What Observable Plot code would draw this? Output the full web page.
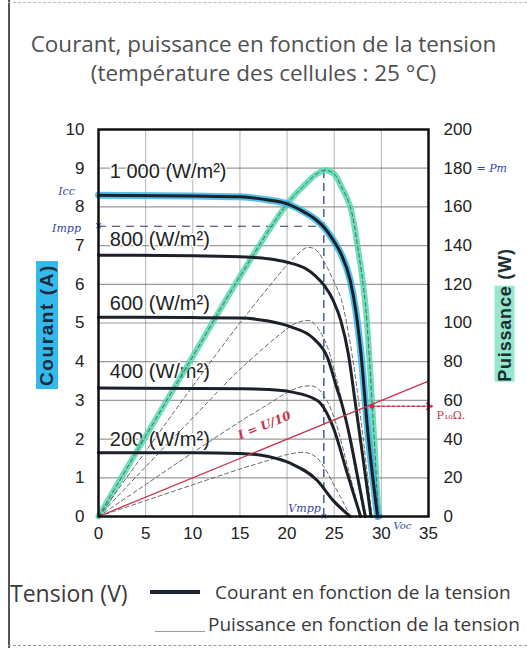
<!DOCTYPE html>
<html>
<head>
<meta charset="utf-8">
<script src="https://cdn.jsdelivr.net/npm/d3@7"></script>
<script src="https://cdn.jsdelivr.net/npm/@observablehq/plot@0.6"></script>
<style>
  html, body { margin: 0; padding: 0; background: #fff; }
  #page { position: relative; width: 527px; height: 648px; overflow: hidden; background: #fff; font-family: "Open Sans", sans-serif; }
  .abs { position: absolute; white-space: nowrap; }
  .title { left: 0; width: 527px; text-align: center; font-size: 21px; line-height: 29px; color: #505050; transform: scaleX(1.07); transform-origin: 50% 50%; }
  .legend { font-size: 19px; color: #3a3a3a; }
</style>
</head>
<body>
<div id="page">
  <div class="abs" style="left:8px;top:0;width:1.5px;height:648px;background:#555"></div>
  <div class="abs" style="left:8px;top:2px;width:519px;height:0;border-top:1px dashed #bbb"></div>
  <div class="abs" style="left:8px;top:645px;width:519px;height:0;border-top:1px dashed #999"></div>

  <div class="abs title" style="top:30px">Courant, puissance en fonction de la tension<br>(température des cellules : 25 °C)</div>

  <div id="chart" class="abs" style="left:0;top:110px"></div>

  <div class="abs" style="left:47px;top:325px;transform:translate(-50%,-50%) rotate(-90deg);font:bold 19px 'Liberation Sans',sans-serif;color:#1b2b3b;background:#33b9ec;padding:0 3px;letter-spacing:1.6px">Courant (A)</div>
  <div class="abs" style="left:505px;top:315px;transform:translate(-50%,-50%) rotate(-90deg);font:bold 18px 'Liberation Sans',sans-serif;color:#1b2f2f;letter-spacing:0.8px"><span style="background:#97e6cf">Puissance</span> (W)</div>

  <div class="abs legend" style="left:10px;top:577px;font-size:23px">Tension (V)</div>
  <div class="abs" style="left:150px;top:590px;width:50px;height:4px;background:#1d2330"></div>
  <div class="abs legend" style="left:215px;top:579px">Courant en fonction de la tension</div>
  <div class="abs" style="left:155px;top:631px;width:50px;height:1px;background:#999"></div>
  <div class="abs legend" style="left:208px;top:611px">Puissance en fonction de la tension</div>
</div>

<script>
// ---- Axes ----
const tensionTicks = [0, 5, 10, 15, 20, 25, 30, 35];
const courantTicks = [0, 1, 2, 3, 4, 5, 6, 7, 8, 9, 10];
const puissanceTicks = [0, 20, 40, 60, 80, 100, 120, 140, 160, 180, 200];

// ---- Éclairements ----
const eclairements = [1000, 800, 600, 400, 200];
const eclairementLabels = ["1 000 (W/m²)", "800 (W/m²)", "600 (W/m²)", "400 (W/m²)", "200 (W/m²)"];
const labelCourant = [8.9, 7.15, 5.5, 3.75, 2.0];

// ---- Courant I(U) [tension V, courant A] ----
const courant1000 = [[0,8.3],[10,8.28],[15,8.26],[18,8.18],[20,8.08],[22,7.84],[23,7.68],[24,7.45],[25,7.1],[25.7,6.8],[26.7,6.1],[27.3,5.3],[27.8,4.3],[28.6,2.1],[29.6,0]];
const courant800  = [[0,6.75],[10,6.74],[15,6.71],[18,6.66],[20,6.57],[22,6.4],[23,6.22],[24,5.95],[24.9,5.58],[25.7,5.06],[26.5,4.2],[27.2,3.0],[28,1.6],[28.9,0]];
const courant600  = [[0,5.15],[10,5.14],[15,5.13],[18,5.05],[20.4,4.9],[22.8,4.6],[24.3,4.1],[25.3,3.3],[25.7,3.0],[26.7,2.0],[27.5,1.0],[28.3,0]];
const courant400  = [[0,3.32],[10,3.31],[15,3.3],[18,3.28],[20.4,3.22],[23.2,3.0],[24.9,2.3],[26.4,1.1],[27.8,0]];
const courant200  = [[0,1.65],[10,1.65],[15,1.63],[18,1.55],[20.4,1.37],[23.2,0.93],[24.9,0.41],[26.7,0]];

// ---- Puissance P(U) [tension V, puissance W] ----
const puissance1000 = [[0,0],[5,41.5],[10,82.7],[15,124],[20,161.5],[22,172],[23,176.5],[24,179],[25,177],[25.7,171],[26.7,160],[27.5,139],[28.3,110],[29,60],[29.7,0]];
const puissance800  = [[0,0],[5,33.7],[10,67.4],[15,100],[20,130],[21,135],[22.1,139],[23,138],[24,131],[25,121],[25.7,113],[26.5,95],[27.3,70],[28.2,35],[29,0]];
const puissance600  = [[0,0],[5,25.7],[10,51],[15,76],[20,97],[21,100],[22.5,101],[23.9,92],[25.3,70],[26.3,48],[27.2,25],[28.2,0]];
const puissance400  = [[0,0],[5,16.5],[10,33],[15,49],[18,58],[20,64],[21.5,67],[23,67],[24.2,60],[25.2,48],[26.2,30],[27,15],[27.8,0]];
const puissance200  = [[0,0],[5,8.2],[10,16.4],[15,24.5],[18,29],[20,32],[22,33],[23,31],[24,25],[25,16],[26,7],[26.7,0]];

// ---- Point de puissance maximale (annotations manuscrites) ----
const Icc = 8.3, Impp = 7.5, Vmpp = 23.9, Pm = 180, Voc = 29.8;
const charge10 = [[0,0],[35,3.5]];        // droite I = U/10
const point10 = {u: 29.0, i: 2.85};        // intersection → P10Ω

// ---- Build tables ----
const courantSeries = [courant1000, courant800, courant600, courant400, courant200];
const puissanceSeries = [puissance1000, puissance800, puissance600, puissance400, puissance200];
const courantRows = courantSeries.flatMap((s, k) => s.map(([u, i]) => ({g: eclairements[k], u, i})));
const puissanceRows = puissanceSeries.flatMap((s, k) => s.map(([u, p]) => ({g: eclairements[k], u, p})));
const labelRows = eclairements.map((g, k) => ({g, label: eclairementLabels[k], i: labelCourant[k]}));
const W = 20; // 1 A ↔ 20 W on the shared grid

const handFont = "'DejaVu Serif', serif";
const blue = "#3248a8", red = "#c7344a";

const chart = Plot.plot({
  width: 527,
  height: 450,
  marginLeft: 98,
  marginRight: 99,
  marginTop: 19,
  marginBottom: 44,
  x: {domain: [0, 35]},
  y: {domain: [0, 10]},
  style: {fontFamily: "'Liberation Sans', Arial, sans-serif", color: "#222", background: "transparent", overflow: "visible"},
  marks: [
    Plot.gridX({ticks: tensionTicks.slice(1, -1), stroke: "#777", strokeOpacity: 0.55, strokeWidth: 1}),
    Plot.gridY({ticks: courantTicks.slice(1, -1), stroke: "#666", strokeOpacity: 0.65, strokeWidth: 1.2}),
    // labels with white halo
    Plot.text(labelRows, {x: 1.2, y: "i", text: "label", textAnchor: "start", fontSize: 20, letterSpacing: 1.6, fill: "#222", stroke: "white", strokeWidth: 3}),
    // MPP dashed guides
    Plot.ruleY([Impp], {x1: 0, x2: Vmpp, stroke: "#2b3a66", strokeWidth: 1.2, strokeDasharray: "8,6"}),
    Plot.ruleX([Vmpp], {y1: 0, y2: Pm / W, stroke: "#2a3f9a", strokeWidth: 1.3, strokeDasharray: "8,5"}),
    // highlights
    Plot.line(puissanceRows.filter(d => d.g === 1000), {x: "u", y: d => d.p / W, stroke: "#52d9b2", strokeWidth: 6, strokeOpacity: 0.85, curve: "catmull-rom"}),
    Plot.line(courantRows.filter(d => d.g === 1000), {x: "u", y: "i", stroke: "#35b6e6", strokeWidth: 7, strokeOpacity: 0.85, curve: "monotone-x"}),
    // power curves (thin dashed)
    Plot.line(puissanceRows, {x: "u", y: d => d.p / W, z: "g", stroke: "#555", strokeWidth: 0.9, strokeDasharray: "4,3", curve: "catmull-rom"}),
    // current curves (thick)
    Plot.line(courantRows, {x: "u", y: "i", z: "g", stroke: "#1c2029", strokeWidth: 3, curve: "monotone-x"}),
    // red load line I = U/10
    Plot.line(charge10, {x: d => d[0], y: d => d[1], stroke: red, strokeWidth: 1.3}),
    Plot.arrow([point10], {x1: "u", y1: "i", x2: 35.4, y2: "i", stroke: red, strokeWidth: 1.6, strokeDasharray: "3,2", headLength: 6}),
    Plot.dot([point10], {x: "u", y: "i", r: 2.5, fill: red}),
    Plot.text(["I = U/10"], {x: 17.6, y: 2.35, rotate: -22, fill: red, fontSize: 12, fontWeight: "bold", fontStyle: "italic", fontFamily: handFont}),
    Plot.text(["P₁₀Ω."], {x: 35, y: 2.6, dx: 8, textAnchor: "start", fill: red, fontSize: 11, fontFamily: handFont}),
    // blue handwritten notes
    Plot.text(["Icc"], {x: 0, y: Icc, dx: -32, dy: -4, fill: blue, fontSize: 11, fontStyle: "italic", fontFamily: handFont}),
    Plot.text(["Impp"], {x: 0, y: Impp, dx: -32, dy: 2, fill: blue, fontSize: 11, fontStyle: "italic", fontFamily: handFont}),
    Plot.text(["×"], {x: 0, y: Impp, fill: blue, fontSize: 12}),
    Plot.text(["= Pm"], {x: 35, y: Pm / W, dx: 48, textAnchor: "start", fill: blue, fontSize: 11, fontStyle: "italic", fontFamily: handFont}),
    Plot.text(["Vmpp"], {x: Vmpp, y: 0, dy: -8, dx: -3, textAnchor: "end", fill: blue, fontSize: 11, fontStyle: "italic", fontFamily: handFont}),
    Plot.text(["×"], {x: Vmpp, y: 0, fill: blue, fontSize: 11}),
    Plot.text(["×"], {x: Voc, y: 0, fill: blue, fontSize: 11}),
    Plot.text(["Voc"], {x: Voc, y: 0, dx: 14, dy: 9, textAnchor: "start", fill: blue, fontSize: 10, fontStyle: "italic", fontFamily: handFont}),
    // axes
    Plot.axisX({ticks: tensionTicks, tickSize: 0, tickPadding: 10, fontSize: 17, label: null, letterSpacing: 1}),
    Plot.axisY({ticks: courantTicks, anchor: "left", tickSize: 0, tickPadding: 14, fontSize: 17, label: null}),
    Plot.axisY({ticks: puissanceTicks.map(p => p / W), anchor: "right", tickSize: 0, tickPadding: 15, fontSize: 17, letterSpacing: 1, label: null, tickFormat: d => String(Math.round(d * W))}),
    Plot.frame({stroke: "#111", strokeWidth: 2.5})
  ]
});
document.getElementById("chart").appendChild(chart);
</script>
</body>
</html>
